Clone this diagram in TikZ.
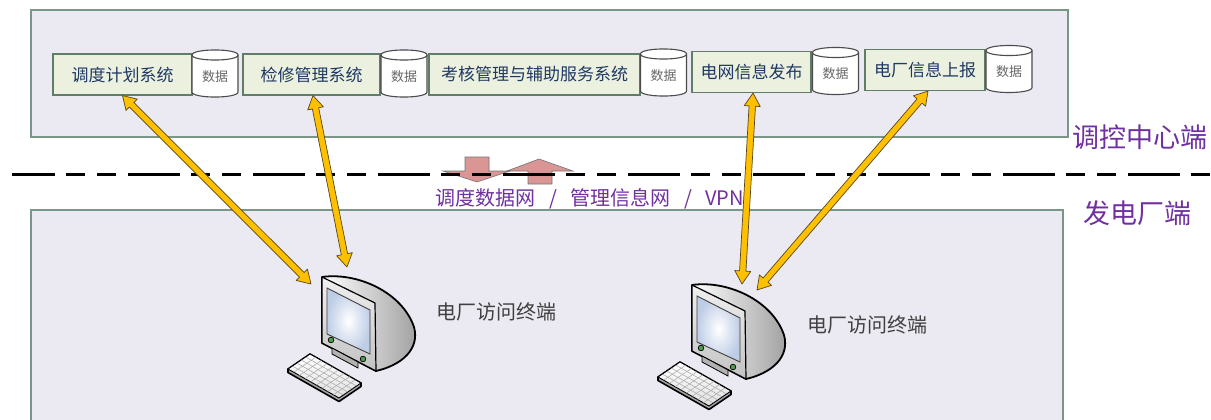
\documentclass[tikz,border=0pt]{standalone}
\usepackage{fontspec}
\newfontfamily\cjk{Noto Sans CJK SC}
\newfontfamily\cjkspaced[WordSpace=3]{Noto Sans CJK SC}
\usetikzlibrary{calc}

\definecolor{panelfill}{RGB}{235,233,241}
\definecolor{panelline}{RGB}{122,150,135}
\definecolor{boxfill}{RGB}{235,241,222}
\definecolor{boxline}{RGB}{95,125,105}
\definecolor{boxtext}{RGB}{31,56,100}
\definecolor{labelpurple}{RGB}{112,48,160}
\definecolor{arrowfill}{RGB}{255,192,0}
\definecolor{arrowline}{RGB}{85,70,30}
\definecolor{netfill}{RGB}{217,150,148}
\definecolor{termtext}{RGB}{64,64,64}
\definecolor{screenblue}{RGB}{190,205,230}

\newcommand\fsz[1]{\fontsize{#1}{#1}\selectfont}

% double-headed link arrow between two named points
\newcommand\linkarrow[2]{%
  \path let \p1=(#1), \p2=(#2) in
    \pgfextra{%
      \pgfmathsetmacro\lkang{atan2(\y2-\y1,\x2-\x1)}%
      \pgfmathsetmacro\lklen{veclen(\x2-\x1,\y2-\y1)}%
      \global\let\lkang\lkang
      \global\let\lklen\lklen};
  \filldraw[linkarrow, shift={(#1)}, rotate=\lkang]
    (0pt,0pt) -- (13pt,8pt) -- (13pt,3.2pt) -- ({\lklen pt-13pt},3.2pt)
    -- ({\lklen pt-13pt},8pt) -- (\lklen pt,0pt) -- ({\lklen pt-13pt},-8pt)
    -- ({\lklen pt-13pt},-3.2pt) -- (13pt,-3.2pt) -- (13pt,-8pt) -- cycle;
}

\tikzset{
  panel/.style={fill=panelfill, draw=panelline, line width=1.5pt},
  sysbox/.style={draw=boxline, fill=boxfill, line width=1.2pt,
    font=\cjk\fsz{17pt}, text=boxtext, minimum height=41pt, inner sep=0pt},
  dbline/.style={draw=black!70, fill=white, line width=1.1pt},
  dbtext/.style={font=\cjk\fsz{13pt}, text=black!60, inner sep=0pt},
  sidelabel/.style={font=\cjk\fsz{27pt}, text=labelpurple, inner sep=0pt},
  netlabel/.style={font=\cjkspaced\fsz{20pt}, text=labelpurple, inner sep=0pt},
  termlabel/.style={font=\cjk\fsz{20pt}, text=termtext, inner sep=0pt},
  linkarrow/.style={fill=arrowfill, draw=arrowline, line width=0.7pt, line join=round},
  netarrow/.style={fill=netfill, draw=black!55, line width=0.6pt, line join=miter},
  divider/.style={line width=3pt,
    dash pattern=on 52pt off 11pt on 19pt off 12pt on 19pt off 12pt, dash phase=9pt},
  pics/datastore/.style={code={
    \filldraw[dbline] (-23,-18.5) -- (-23,18.5)
      .. controls (-23,25.2) and (23,25.2) .. (23,18.5) -- (23,-18.5)
      .. controls (23,-25.2) and (-23,-25.2) .. cycle;
    \draw[dbline, fill=none] (-23,-18.5) .. controls (-23,-11.8) and (23,-11.8) .. (23,-18.5);
    \node[dbtext] (-txt) at (0,3) {数据};
  }},
  pics/terminal/.style={code={
    % CRT housing
    \fill[left color=white, right color=black!38]
      (0,0) .. controls (35,-5) and (80,15) .. (92,50)
      .. controls (98,72) and (80,88) .. (54,94) -- (0,66) -- cycle;
    \draw[line width=1.8pt, line join=round]
      (0,0) .. controls (35,-5) and (80,15) .. (92,50)
      .. controls (98,72) and (80,88) .. (54,94) -- (0,66) -- cycle;
    % front bezel
    \draw[top color=black!6, bottom color=black!24, line width=1.2pt, line join=round]
      (0,0) -- (53,26) -- (54,94) -- (0,66) -- cycle;
    % screen
    \draw[inner color=white, outer color=screenblue, draw=black!75, line width=0.9pt]
      (5,11) -- (48,33) -- (48,77) -- (5,57) -- cycle;
    % stand
    \draw[fill=black!30, line width=0.8pt] (10,71) -- (10,77) -- (36,91) -- (36,85) -- cycle;
    % buttons
    \draw[fill=green!45!black!70, draw=black, line width=0.7pt] (9,63) circle (2.8);
    \draw[fill=green!45!black!70, draw=black, line width=0.7pt] (41,82) circle (2.8);
    % keyboard
    \coordinate (-k0) at (-34,92);
    \coordinate (-k1) at (-12,77);
    \coordinate (-k2) at (39,106);
    \coordinate (-k3) at (17,121);
    \draw[fill=black!35, line width=1.6pt, line join=round]
      (-k0) -- (-k1) -- (-k2) -- ([yshift=-3.5pt]-k2) -- ([yshift=-3.5pt]-k3)
      -- ([yshift=-3.5pt]-k0) -- cycle;
    \draw[top color=white, bottom color=black!12, line width=0.9pt]
      (-k0) -- (-k1) -- (-k2) -- (-k3) -- cycle;
    \foreach \i in {1,...,4}
      \draw[black!35, line width=0.5pt] ($(-k0)!\i/5!(-k1)$) -- ($(-k3)!\i/5!(-k2)$);
    \foreach \j in {1,...,8}
      \draw[black!35, line width=0.5pt] ($(-k0)!\j/9!(-k3)$) -- ($(-k1)!\j/9!(-k2)$);
  }},
}

\begin{document}
\begin{tikzpicture}[x=1pt, y=-1pt]
  \useasboundingbox (0,0) rectangle (1211,420);

  % control-centre and power-plant areas
  \draw[panel] (31,10) rectangle (1068,137);
  \fill[panelfill] (31,210) rectangle (1063,420);
  \draw[panelline, line width=1.5pt] (31,421) -- (31,210) -- (1063,210) -- (1063,421);

  % network exchange arrows
  \filldraw[netarrow] (465,157) -- (489,157) -- (489,171) -- (510,171) -- (477,182)
    -- (443,171) -- (465,171) -- cycle;
  \filldraw[netarrow] (539,159) -- (573,171) -- (552,171) -- (552,184) -- (528,184)
    -- (528,171) -- (507,171) -- cycle;

  % boundary line
  \draw[divider] (12,174) -- (1211,174);

  % area labels
  \node[sidelabel] (ctrlside) at (1140,137.5) {调控中心端};
  \node[sidelabel] (plantside) at (1137.5,213.5) {发电厂端};
  \node[netlabel] (netname) at (590,199) {调度数据网 / 管理信息网 / VPN};

  % systems and their data stores
  \node[sysbox, minimum width=139pt] (box1) at (122.5,74.5) {调度计划系统};
  \pic (db1) at (215,73.5) {datastore};
  \node[sysbox, minimum width=137pt] (box2) at (311.5,74.5) {检修管理系统};
  \pic (db2) at (404,73.5) {datastore};
  \node[sysbox, minimum width=211pt] (box3) at (534.5,74.5) {考核管理与辅助服务系统};
  \pic (db3) at (663.5,72.5) {datastore};
  \node[sysbox, minimum width=119pt] (box4) at (751.5,72) {电网信息发布};
  \pic (db4) at (835.5,71) {datastore};
  \node[sysbox, minimum width=120pt] (box5) at (925,70) {电厂信息上报};
  \pic (db5) at (1009,69) {datastore};

  % plant terminals
  \pic (pc1) at (322,277) {terminal};
  \node[termlabel] (pc1label) at (496.5,311.5) {电厂访问终端};
  \pic (pc2) at (692,285) {terminal};
  \node[termlabel] (pc2label) at (867,325) {电厂访问终端};

  % arrow end points
  \coordinate (s2) at ([xshift=1.5pt]box2.south);
  \coordinate (s4) at ([xshift=1.5pt]box4.south);
  \coordinate (s5) at ([xshift=3pt]box5.south);
  \coordinate (t1a) at (311,284);
  \coordinate (t1b) at (347,267);
  \coordinate (t2a) at (742,284);
  \coordinate (t2b) at (757,290);

  % access links
  \linkarrow{box1.south}{t1a}
  \linkarrow{s2}{t1b}
  \linkarrow{s4}{t2a}
  \linkarrow{s5}{t2b}
\end{tikzpicture}
\end{document}
